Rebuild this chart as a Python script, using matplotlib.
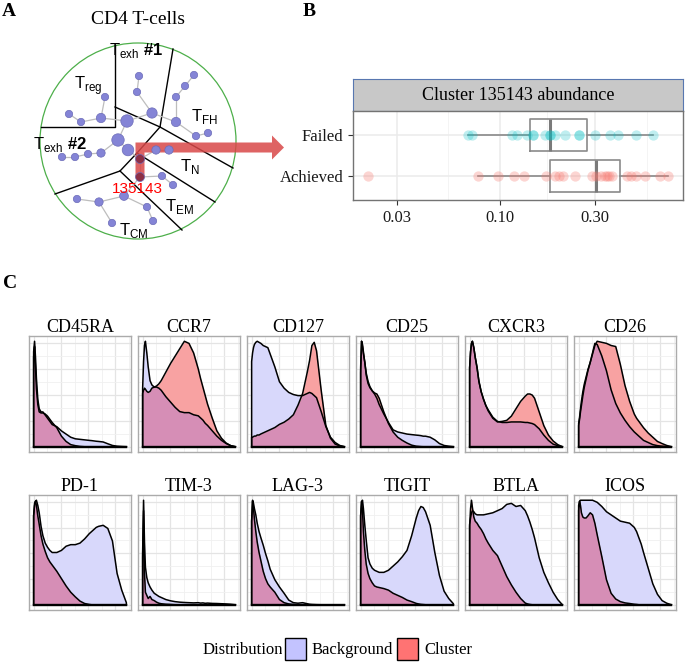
import numpy as np
import matplotlib
matplotlib.use("Agg")
import matplotlib.pyplot as plt
from matplotlib.patches import Circle, Polygon, Rectangle

plt.rcParams['font.family'] = ['Liberation Serif', 'DejaVu Serif']
plt.rcParams['mathtext.fontset'] = 'custom'
plt.rcParams['mathtext.rm'] = 'Liberation Sans'
plt.rcParams['mathtext.bf'] = 'Liberation Sans:bold'

W, H = 685, 664

# ---- panel A: cluster tree (pixel coordinates of the original drawing) ----
NODE_X = [139, 137, 152, 105, 101, 81, 69, 194, 185, 176, 176, 196, 208,
          127, 118, 128, 101, 88, 75, 62, 140, 156, 169, 140, 162, 173,
          124, 99, 77, 112, 147, 153]
NODE_Y = [76, 92, 113, 97, 118, 122, 114, 75, 86, 97, 122, 136, 133,
          121, 140, 150, 153, 154, 157, 157, 159, 150, 150, 177, 176, 185,
          196, 202, 199, 223, 207, 221]
NODE_SIZE = [28, 28, 55, 28, 45, 28, 28, 28, 28, 28, 45, 28, 28,
             80, 80, 70, 36, 28, 28, 28, 42, 36, 36, 42, 28, 28,
             40, 36, 28, 28, 28, 28]
HIGHLIGHT = [20, 23]
EDGES = [(0, 1), (1, 2), (2, 13), (2, 10), (7, 8), (8, 9), (9, 10), (10, 11),
         (11, 12), (3, 4), (4, 5), (5, 6), (4, 13), (13, 14), (14, 15),
         (14, 16), (16, 17), (17, 18), (18, 19), (15, 20), (20, 21), (21, 22),
         (20, 23), (23, 24), (24, 25), (23, 26), (26, 27), (27, 28), (27, 29),
         (26, 30), (30, 31)]
DIVIDERS = [
    [(115, 45), (115, 127), (41, 127)],
    [(115, 107), (160, 127)],
    [(173, 49), (160, 127), (233, 168)],
    [(160, 127), (137, 153), (120, 171), (55, 194)],
    [(120, 171), (182, 230)],
    [(137, 153), (215, 202)],
]
REGION_LABELS = [r'T$_{\mathrm{exh}}$ $\mathbf{\#1}$', r'T$_{\mathrm{reg}}$',
                 r'T$_{\mathrm{FH}}$', r'T$_{\mathrm{exh}}$ $\mathbf{\#2}$',
                 r'T$_{\mathrm{N}}$', r'T$_{\mathrm{EM}}$', r'T$_{\mathrm{CM}}$']
REGION_POS = [(136, 51), (88, 86), (204, 116), (60, 144), (190, 167),
              (179, 206), (134, 231)]

# ---- panel B: cluster abundance per outcome ----
FAILED = [0.069, 0.072, 0.114, 0.122, 0.137, 0.146, 0.146, 0.168, 0.179, 0.179,
          0.189, 0.213, 0.249, 0.249, 0.30, 0.359, 0.391, 0.484, 0.589]
ACHIEVED = [0.0215, 0.077, 0.097, 0.118, 0.132, 0.170, 0.188, 0.197, 0.207,
            0.239, 0.289, 0.303, 0.321, 0.338, 0.345, 0.354, 0.368, 0.439,
            0.457, 0.484, 0.535, 0.638, 0.703]
X_BREAKS = [0.03, 0.10, 0.30]
X_MINOR = [0.0548, 0.173, 0.548]

# ---- panel C: marker densities (scaled, background vs cluster) ----
GRID = [0, .01, .02, .03, .045, .06, .08, .1, .125, .15, .175, .2, .25, .3, .35,
        .4, .45, .5, .55, .6, .625, .65, .675, .7, .75, .8, .85, .9, .95, 1.0]

CD45RA_BG = [0.9, 1.0, 0.85, 0.65, 0.45, 0.36, 0.33, 0.33, 0.3, 0.27, 0.24, 0.21, 0.19, 0.15, 0.12,
             0.09, 0.075, 0.07, 0.065, 0.06, 0.058, 0.055, 0.052, 0.05, 0.045, 0.028, 0.012, 0.005, 0.002, 0.0]
CD45RA_CL = [0.85, 0.95, 0.75, 0.55, 0.4, 0.33, 0.32, 0.32, 0.31, 0.29, 0.26, 0.23, 0.18, 0.1, 0.05,
             0.02, 0.01, 0.003, 0, 0, 0, 0, 0, 0, 0, 0, 0, 0, 0, 0]
CCR7_BG = [0.55, 0.8, 0.95, 0.99, 0.88, 0.75, 0.62, 0.58, 0.56, 0.56, 0.55, 0.53, 0.47, 0.42, 0.37,
           0.33, 0.32, 0.32, 0.3, 0.29, 0.27, 0.25, 0.22, 0.2, 0.15, 0.1, 0.06, 0.03, 0.01, 0.0]
CCR7_CL = [0.5, 0.53, 0.55, 0.54, 0.52, 0.51, 0.52, 0.55, 0.56, 0.57, 0.59, 0.62, 0.7, 0.78, 0.85,
           0.92, 0.99, 0.97, 0.88, 0.73, 0.64, 0.56, 0.48, 0.4, 0.27, 0.15, 0.08, 0.035, 0.01, 0.0]
CD127_BG = [0.8, 0.88, 0.93, 0.96, 0.98, 0.99, 0.98, 0.97, 0.95, 0.94, 0.93, 0.87, 0.75, 0.61, 0.55,
            0.51, 0.49, 0.48, 0.48, 0.5, 0.51, 0.5, 0.48, 0.46, 0.33, 0.19, 0.09, 0.04, 0.012, 0.0]
CD127_CL = [0.09, 0.09, 0.095, 0.1, 0.1, 0.11, 0.11, 0.12, 0.13, 0.14, 0.15, 0.16, 0.18, 0.21, 0.23,
            0.26, 0.3, 0.39, 0.5, 0.7, 0.81, 0.95, 0.98, 0.9, 0.53, 0.2, 0.08, 0.025, 0.008, 0.0]
CD25_BG = [0.7, 1.0, 0.95, 0.88, 0.8, 0.7, 0.62, 0.57, 0.53, 0.5, 0.46, 0.4, 0.31, 0.23, 0.16,
           0.14, 0.13, 0.12, 0.115, 0.11, 0.108, 0.105, 0.1, 0.1, 0.09, 0.065, 0.03, 0.012, 0.005, 0.0]
CD25_CL = [0.75, 1.0, 0.97, 0.9, 0.8, 0.68, 0.6, 0.56, 0.53, 0.51, 0.5, 0.46, 0.33, 0.22, 0.14,
           0.09, 0.06, 0.035, 0.015, 0.005, 0.003, 0.001, 0, 0, 0, 0, 0, 0, 0, 0]
CXCR3_BG = [0.75, 0.9, 0.98, 1.0, 0.94, 0.85, 0.75, 0.62, 0.52, 0.45, 0.39, 0.35, 0.28, 0.24, 0.23,
            0.23, 0.235, 0.235, 0.235, 0.23, 0.23, 0.225, 0.22, 0.21, 0.17, 0.11, 0.06, 0.025, 0.01, 0.0]
CXCR3_CL = [0.75, 0.9, 0.98, 1.0, 0.94, 0.85, 0.75, 0.62, 0.52, 0.45, 0.39, 0.34, 0.27, 0.235, 0.24,
            0.25, 0.29, 0.36, 0.43, 0.48, 0.5, 0.5, 0.49, 0.46, 0.33, 0.2, 0.11, 0.055, 0.02, 0.0]
CD26_BG = [0.2, 0.26, 0.33, 0.39, 0.48, 0.56, 0.64, 0.72, 0.8, 0.89, 0.98, 0.97, 0.86, 0.72, 0.54,
           0.41, 0.32, 0.25, 0.19, 0.14, 0.12, 0.1, 0.08, 0.06, 0.04, 0.02, 0.01, 0.005, 0.002, 0.0]
CD26_CL = [0.22, 0.28, 0.36, 0.43, 0.52, 0.59, 0.66, 0.73, 0.8, 0.88, 0.96, 1.0, 0.99, 0.98, 0.96,
           0.95, 0.78, 0.58, 0.43, 0.31, 0.27, 0.24, 0.21, 0.18, 0.13, 0.09, 0.05, 0.03, 0.012, 0.0]
PD1_BG = [0.85, 0.95, 0.99, 1.0, 0.95, 0.88, 0.75, 0.66, 0.59, 0.55, 0.52, 0.5, 0.5, 0.52, 0.56,
          0.575, 0.575, 0.59, 0.63, 0.68, 0.7, 0.72, 0.74, 0.75, 0.76, 0.73, 0.61, 0.3, 0.14, 0.02]
PD1_CL = [0.85, 0.97, 0.99, 0.95, 0.85, 0.77, 0.66, 0.58, 0.51, 0.45, 0.41, 0.38, 0.32, 0.25, 0.18,
          0.12, 0.075, 0.035, 0.012, 0.003, 0, 0, 0, 0, 0, 0, 0, 0, 0, 0]
TIM3_BG = [0.5, 1.0, 0.6, 0.36, 0.26, 0.21, 0.17, 0.14, 0.11, 0.095, 0.08, 0.07, 0.05, 0.038, 0.03,
           0.025, 0.022, 0.02, 0.018, 0.02, 0.016, 0.018, 0.014, 0.016, 0.013, 0.012, 0.01, 0.008, 0.005, 0.0]
TIM3_CL = [0.45, 0.9, 0.3, 0.12, 0.09, 0.06, 0.08, 0.05, 0.04, 0.025, 0.015, 0.01, 0.005, 0.003, 0,
           0, 0, 0, 0, 0, 0, 0, 0, 0, 0, 0, 0, 0, 0, 0]
LAG3_BG = [0.8, 1.0, 0.97, 0.92, 0.86, 0.78, 0.7, 0.64, 0.57, 0.49, 0.42, 0.34, 0.24, 0.17, 0.11,
           0.045, 0.02, 0.015, 0.02, 0.01, 0.005, 0.003, 0.002, 0.001, 0, 0, 0, 0, 0, 0]
LAG3_CL = [0.8, 0.99, 0.92, 0.82, 0.7, 0.6, 0.5, 0.42, 0.32, 0.25, 0.2, 0.17, 0.12, 0.05, 0.02,
           0.008, 0.003, 0, 0, 0, 0, 0, 0, 0, 0, 0, 0, 0, 0, 0]
TIGIT_BG = [0.85, 0.98, 1.0, 0.92, 0.76, 0.62, 0.45, 0.39, 0.35, 0.33, 0.32, 0.31, 0.31, 0.33, 0.37,
            0.41, 0.46, 0.52, 0.66, 0.83, 0.9, 0.94, 0.93, 0.89, 0.76, 0.5, 0.28, 0.13, 0.06, 0.01]
TIGIT_CL = [0.85, 0.99, 0.9, 0.7, 0.52, 0.39, 0.3, 0.25, 0.21, 0.18, 0.17, 0.165, 0.155, 0.14, 0.11,
            0.09, 0.07, 0.045, 0.03, 0.013, 0.008, 0.004, 0.002, 0, 0, 0, 0, 0, 0, 0]
BTLA_BG = [0.77, 0.83, 0.88, 0.9, 0.89, 0.87, 0.86, 0.86, 0.86, 0.86, 0.865, 0.87, 0.88, 0.9, 0.92,
           0.96, 0.97, 0.94, 0.95, 0.9, 0.85, 0.79, 0.72, 0.64, 0.45, 0.31, 0.21, 0.12, 0.05, 0.0]
BTLA_CL = [0.75, 0.92, 1.0, 0.93, 0.84, 0.8, 0.78, 0.75, 0.72, 0.68, 0.63, 0.59, 0.52, 0.47, 0.37,
           0.27, 0.19, 0.12, 0.06, 0.016, 0.008, 0.003, 0, 0, 0, 0, 0, 0, 0, 0]
ICOS_BG = [0.95, 0.99, 1.0, 1.0, 1.0, 1.0, 1.0, 1.0, 1.0, 1.0, 0.99, 0.98, 0.94, 0.89, 0.86,
           0.83, 0.8, 0.79, 0.78, 0.74, 0.7, 0.64, 0.58, 0.5, 0.35, 0.2, 0.1, 0.04, 0.015, 0.0]
ICOS_CL = [0.9, 0.99, 0.95, 0.88, 0.84, 0.83, 0.83, 0.85, 0.88, 0.86, 0.78, 0.67, 0.46, 0.24, 0.11,
           0.055, 0.03, 0.018, 0.012, 0.005, 0.003, 0, 0, 0, 0, 0, 0, 0, 0, 0]

PANELS = [("CD45RA", CD45RA_BG, CD45RA_CL), ("CCR7", CCR7_BG, CCR7_CL),
          ("CD127", CD127_BG, CD127_CL), ("CD25", CD25_BG, CD25_CL),
          ("CXCR3", CXCR3_BG, CXCR3_CL), ("CD26", CD26_BG, CD26_CL),
          ("PD-1", PD1_BG, PD1_CL), ("TIM-3", TIM3_BG, TIM3_CL),
          ("LAG-3", LAG3_BG, LAG3_CL), ("TIGIT", TIGIT_BG, TIGIT_CL),
          ("BTLA", BTLA_BG, BTLA_CL), ("ICOS", ICOS_BG, ICOS_CL)]

LAVENDER = '#D8D8FB'
SALMON = '#F8A2A2'
MAUVE = '#D68EB6'


def px_rect(x0, y0, x1, y1):
    """Figure-fraction rect from pixel box (y measured from the top)."""
    return [x0 / W, 1 - y1 / H, (x1 - x0) / W, (y1 - y0) / H]


fig = plt.figure(figsize=(W / 100, H / 100), dpi=100)

# overlay in pixel units for panel A, letters and legend
ov = fig.add_axes([0, 0, 1, 1])
ov.set_xlim(0, W)
ov.set_ylim(H, 0)
ov.axis('off')

ov.add_patch(Circle((138, 141), 98, fill=False, ec='#4DAF4A', lw=0.9))
for line in DIVIDERS:
    xs, ys = zip(*line)
    ov.plot(xs, ys, color='black', lw=1.0, zorder=2)
for a, b in EDGES:
    ov.plot([NODE_X[a], NODE_X[b]], [NODE_Y[a], NODE_Y[b]], color='#BDBDBD', lw=0.9, zorder=2)

arrow = Polygon([(135.5, 178), (135.5, 142.5), (272, 142.5), (272, 135.5), (284, 147.5),
                 (272, 159.5), (272, 152.5), (144.5, 152.5), (144.5, 178)],
                closed=True, fc='#D94848', ec='none', alpha=0.85, zorder=3)
ov.add_patch(arrow)

node_colors = ['#8E2F45' if i in HIGHLIGHT else '#8484D6' for i in range(len(NODE_X))]
ov.scatter(NODE_X, NODE_Y, s=NODE_SIZE, c=node_colors, edgecolors='#6C6CB8', linewidths=0.5, zorder=4)

for label, (lx, ly) in zip(REGION_LABELS, REGION_POS):
    ov.text(lx, ly, label, ha='center', va='center', fontsize=12, family='Liberation Sans', zorder=5)
ov.text(137, 189, "135143", ha='center', va='center', fontsize=11, color='#FF0000',
        family='Liberation Sans', zorder=5)
ov.text(138, 19, "CD4 T-cells", ha='center', va='center', fontsize=14)

for letter, (lx, ly) in zip("ABC", [(9, 12), (309, 12), (10, 283)]):
    ov.text(lx, ly, letter, ha='center', va='center', fontsize=14, fontweight='bold')

# legend
ov.text(203, 650, "Distribution", ha='left', va='center', fontsize=12, zorder=5)
for (kx, label, color) in [(285, "Background", '#C3C3FF'), (397, "Cluster", '#FF7373')]:
    ov.add_patch(Rectangle((kx - 3, 634), 27, 30, fc='white', ec='none', zorder=6))
    ov.add_patch(Rectangle((kx, 638), 21, 22, fc=color, ec='black', lw=1.0, zorder=7))
    ov.text(kx + 27, 650, label, ha='left', va='center', fontsize=12, zorder=7)

# ---- panel B ----
strip = fig.add_axes(px_rect(353, 79, 683, 111))
strip.set_facecolor('#C8C8C8')
strip.set_xticks([])
strip.set_yticks([])
for s in strip.spines.values():
    s.set_color('#5877B0')
    s.set_linewidth(0.8)
strip.text(0.5, 0.5, "Cluster 135143 abundance", ha='center', va='center', fontsize=13,
           transform=strip.transAxes)

axb = fig.add_axes(px_rect(353, 111, 683, 200))
log_f = np.log10(FAILED)
log_a = np.log10(ACHIEVED)

box_style = dict(color='#8A8A8A', linewidth=1.2)
axb.boxplot([log_a, log_f], positions=[1, 2], orientation='horizontal', widths=0.8,
            showfliers=False, showcaps=False, boxprops=box_style, whiskerprops=box_style,
            medianprops=dict(color='#7A7A7A', linewidth=2.2), zorder=2)
axb.scatter(log_f, np.full(len(log_f), 2), s=55, color='#00BFC4', alpha=0.25, linewidths=0, zorder=3)
axb.scatter(log_a, np.full(len(log_a), 1), s=55, color='#F8766D', alpha=0.3, linewidths=0, zorder=3)

allv = np.concatenate([log_f, log_a])
span = allv.max() - allv.min()
axb.set_xlim(allv.min() - 0.05 * span, allv.max() + 0.05 * span)
axb.set_ylim(0.4, 2.6)
axb.set_axisbelow(True)
axb.set_xticks(np.log10(X_BREAKS))
axb.set_xticklabels([f"{v:.2f}" for v in X_BREAKS])
axb.set_xticks(np.log10(X_MINOR), minor=True)
axb.set_yticks([1, 2])
axb.set_yticklabels(["Achieved", "Failed"])
axb.grid(which='major', color='#EBEBEB', lw=1.1)
axb.grid(which='minor', axis='x', color='#F3F3F3', lw=0.6)
axb.tick_params(which='major', length=3.5, color='#333333', labelsize=12, labelcolor='#1A1A1A')
axb.tick_params(which='minor', length=0)
for s in axb.spines.values():
    s.set_color('#737373')
    s.set_linewidth(1.0)

# ---- panel C ----
grid = np.array(GRID)
outline_x = np.concatenate([[0], grid, [1]])
for i, (name, bg, cl) in enumerate(PANELS):
    row, col = divmod(i, 6)
    x0 = 29 + col * 109
    y0, y1 = (336, 452) if row == 0 else (495, 610)
    ax = fig.add_axes(px_rect(x0, y0, x0 + 102, y1))
    bg = np.array(bg)
    cl = np.array(cl)
    top = max(bg.max(), cl.max())
    ax.set_xlim(-0.05, 1.05)
    ax.set_ylim(-0.05 * top, 1.05 * top)

    gx = np.arange(8) * 0.147
    gy = np.arange(9) * 0.123 * top
    ax.set_xticks(gx[::2])
    ax.set_xticks(gx[1::2], minor=True)
    ax.set_yticks(gy[::2])
    ax.set_yticks(gy[1::2], minor=True)
    ax.grid(which='major', color='#E4E4E4', lw=0.9)
    ax.grid(which='minor', color='#F0F0F0', lw=0.6)
    ax.tick_params(which='both', length=0, labelbottom=False, labelleft=False)
    ax.set_axisbelow(True)

    ax.fill_between(grid, 0, bg, color=LAVENDER, lw=0)
    ax.fill_between(grid, 0, cl, color=SALMON, lw=0)
    ax.fill_between(grid, 0, np.minimum(bg, cl), color=MAUVE, lw=0)
    for vals in (bg, cl):
        ax.plot(outline_x, np.concatenate([[0], vals, [0]]), color='black', lw=1.1)
    ax.plot([0, 1], [0, 0], color='black', lw=1.7)

    for s in ax.spines.values():
        s.set_color('#ABABAB')
        s.set_linewidth(1.0)
    ax.set_title(name, fontsize=13, pad=3)

fig.savefig("out.png", dpi=100)
